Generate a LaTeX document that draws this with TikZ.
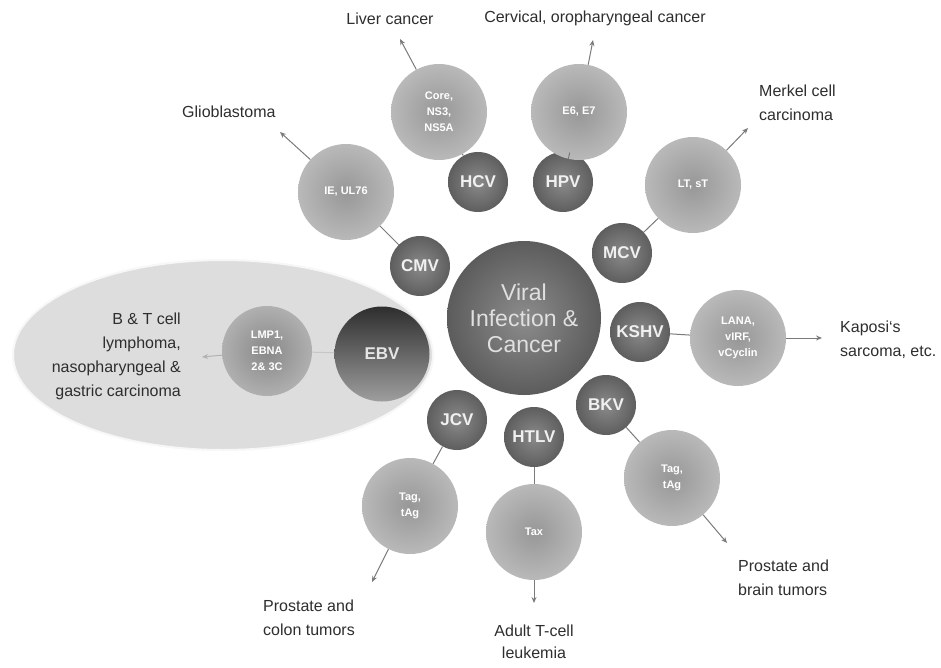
\documentclass[tikz,border=0pt]{standalone}
\usepackage{fontspec}
\setmainfont{Liberation Sans}
\usetikzlibrary{arrows.meta,shapes.geometric}
\definecolor{vin}{HTML}{8A8A8A}
\definecolor{vout}{HTML}{5E5E5E}
\definecolor{pin}{HTML}{979797}
\definecolor{pout}{HTML}{B9B9B9}
\definecolor{cin}{HTML}{8C8C8C}
\definecolor{cout}{HTML}{5C5C5C}
\definecolor{ellfill}{HTML}{DDDDDD}
\definecolor{linkc}{HTML}{7A7A7A}
\definecolor{txt}{HTML}{2E2E2E}
\begin{document}
\begin{tikzpicture}[x=1pt,y=-1pt,
  virus/.style={circle, minimum size=60pt, inner sep=0pt, inner color=vin, outer color=vout, text=white!94!black, font=\bfseries\fontsize{17}{17}\selectfont},
  prot/.style={circle, minimum size=96pt, inner sep=0pt, inner color=pin, outer color=pout, text=white, font=\bfseries\fontsize{11}{16}\selectfont, align=center},
  lbl/.style={font=\fontsize{16}{24}\selectfont, text=txt, inner sep=0pt},
  link/.style={draw=linkc, line width=1pt},
  arr/.style={link, -{Stealth[length=6pt,width=5pt]}}]
\useasboundingbox (0,0) rectangle (941,667);
\fill[white] (0,0) rectangle (941,667);

% EBV region
\node[ellipse, minimum width=420pt, minimum height=190pt, fill=ellfill, draw=white!94!gray, line width=2pt] (ell) at (223,355) {};

% center
\node[circle, minimum size=154pt, inner sep=0pt, inner color=cin, outer color=cout, text=white!88!black, font=\fontsize{23}{26}\selectfont, align=center] (core) at (524,318) {Viral\\Infection \&\\Cancer};

% viruses
\node[virus] (cmv) at (420,266) {CMV};
\node[virus] (hcv) at (478,182) {HCV};
\node[virus] (hpv) at (563,182) {HPV};
\node[virus] (mcv) at (622,253) {MCV};
\node[virus] (kshv) at (640,332) {KSHV};
\node[virus] (bkv) at (606,405) {BKV};
\node[virus] (htlv) at (534,437) {HTLV};
\node[virus] (jcv) at (457,420) {JCV};
\node[circle, minimum size=95pt, inner sep=0pt, top color=black!82, bottom color=black!38, text=white!90!black, font=\bfseries\fontsize{17}{17}\selectfont] (ebv) at (382,354) {EBV};

% proteins
\node[prot] (pcmv) at (346,192) {IE, UL76};
\node[prot] (phcv) at (439,112) {Core,\\NS3,\\NS5A};
\node[prot] (phpv) at (579,112) {E6, E7};
\node[prot] (pmcv) at (693,185) {LT, sT};
\node[prot] (pkshv) at (738,338) {LANA,\\vIRF,\\vCyclin};
\node[prot] (pbkv) at (672,478) {Tag,\\tAg};
\node[prot] (phtlv) at (534,532) {Tax};
\node[prot] (pjcv) at (410,506) {Tag,\\tAg};
\node[prot, minimum size=90pt, inner color=pin!90!black, outer color=pout!95!black] (pebv) at (267,351) {LMP1,\\EBNA\\2\& 3C};

% links
\draw[link] (cmv) -- (pcmv);
\draw[link] (hcv) -- (phcv);
\draw[link] (hpv) -- (phpv);
\draw[link] (mcv) -- (pmcv);
\draw[link] (kshv) -- (pkshv);
\draw[link] (bkv) -- (pbkv);
\draw[link] (htlv) -- (phtlv);
\draw[link] (jcv) -- (pjcv);
\draw[link, draw=gray!45] (ebv) -- (pebv);

% arrow tips
\coordinate (tcmv) at (280,132);
\coordinate (thcv) at (400,39);
\coordinate (thpv) at (593,40);
\coordinate (tmcv) at (748,128);
\coordinate (tkshv) at (822,338);
\coordinate (tbkv) at (727,543);
\coordinate (thtlv) at (534,603);
\coordinate (tjcv) at (372,582);
\coordinate (tebv) at (202,357);

\draw[arr] (pcmv) -- (tcmv);
\draw[arr] (phcv) -- (thcv);
\draw[arr] (phpv) -- (thpv);
\draw[arr] (pmcv) -- (tmcv);
\draw[arr] (pkshv) -- (tkshv);
\draw[arr] (pbkv) -- (tbkv);
\draw[arr] (phtlv) -- (thtlv);
\draw[arr] (pjcv) -- (tjcv);
\draw[arr, draw=gray!60] (pebv) -- (tebv);

% labels
\node[lbl, anchor=west] (lgl) at (182,112) {Glioblastoma};
\node[lbl] (lli) at (390,19) {Liver cancer};
\node[lbl] (lce) at (595,18) {Cervical, oropharyngeal cancer};
\node[lbl, anchor=west, align=left] (lme) at (759,103) {Merkel cell\\carcinoma};
\node[lbl, anchor=west, align=left] (lka) at (840,340) {Kaposi`s\\sarcoma, etc.};
\node[lbl, anchor=west, align=left] (lbr) at (738,578) {Prostate and\\brain tumors};
\node[lbl, align=center, font=\fontsize{16}{22}\selectfont] (lat) at (534,642) {Adult T-cell\\leukemia};
\node[lbl, anchor=west, align=left] (lco) at (263,618) {Prostate and\\colon tumors};
\node[lbl, anchor=east, align=right] (leb) at (181,356) {B \& T cell\\lymphoma,\\nasopharyngeal \&\\gastric carcinoma};
\end{tikzpicture}
\end{document}
